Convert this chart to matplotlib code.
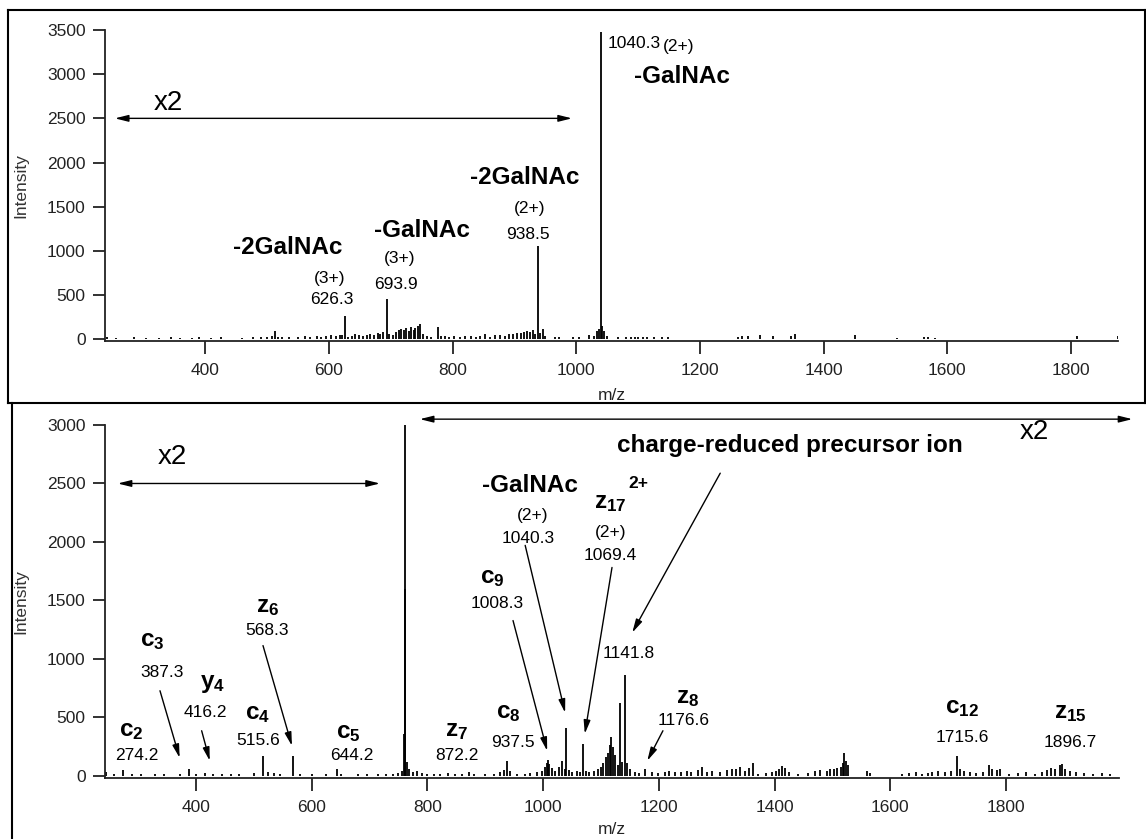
import matplotlib
matplotlib.use('Agg')
import matplotlib.pyplot as plt
from matplotlib.lines import Line2D

plt.rcParams['font.family'] = ['Liberation Sans', 'DejaVu Sans']
plt.rcParams['mathtext.fontset'] = 'custom'
plt.rcParams['mathtext.rm'] = 'Liberation Sans'
plt.rcParams['mathtext.bf'] = 'Liberation Sans:bold'
plt.rcParams['mathtext.it'] = 'Liberation Sans:italic'

# ---- top spectrum (m/z, intensity) ----
top_mz = [242, 255, 285, 305, 325, 345, 360, 378, 390, 410, 425, 460, 478, 490, 500,
          508, 513, 518, 525, 535, 550, 562, 570, 580, 588, 596, 604, 612, 618, 622,
          626.3, 631, 637, 643, 649, 655, 661, 667, 673, 679, 683, 688, 693.9, 698, 704,
          709, 713, 717, 721, 725, 729, 733, 737, 740, 744, 748, 752, 758, 765, 777,
          782, 788, 795, 803, 812, 820, 830, 838, 845, 852, 860, 868, 876, 884, 892,
          898, 904, 910, 915, 920, 926, 930, 934, 938.5, 942, 946, 950, 965, 972, 995,
          1005, 1020, 1028, 1033, 1036, 1040.3, 1042, 1045, 1050, 1068, 1080, 1088, 1095, 1100, 1108,
          1115, 1126, 1138, 1148, 1262, 1268, 1278, 1297, 1318, 1348, 1354, 1451, 1519, 1563, 1568,
          1580, 1810, 1876]
top_int = [20, 15, 20, 18, 15, 20, 15, 15, 20, 15, 20, 15, 20, 25, 30,
           40, 90, 30, 25, 30, 20, 35, 30, 40, 30, 35, 45, 40, 50, 45,
           260, 30, 40, 55, 45, 35, 50, 60, 45, 70, 55, 80, 455, 60, 50,
           80, 100, 120, 110, 130, 90, 140, 110, 125, 150, 170, 60, 40, 30, 135,
           40, 35, 30, 35, 30, 40, 35, 30, 40, 55, 30, 45, 50, 40, 60,
           55, 70, 65, 80, 95, 80, 100, 60, 1060, 70, 120, 40, 25, 30, 25,
           25, 50, 40, 90, 120, 3480, 150, 90, 40, 20, 25, 20, 30, 25, 30,
           25, 20, 25, 25, 30, 35, 40, 45, 40, 35, 55, 45, 15, 25, 20,
           12, 40, 35]

# ---- bottom spectrum (m/z, intensity) ----
bot_mz = [245, 258, 274.2, 290, 305, 330, 345, 372, 387.3, 400, 416.2, 430, 445, 460, 475,
          500, 515.6, 525, 535, 545, 568.3, 580, 600, 625, 644.2, 650, 680, 695, 715, 728,
          740, 750, 756, 760, 761, 762, 764, 768, 775, 782, 790, 800, 812, 822, 835,
          848, 860, 872.2, 880, 900, 915, 925, 932, 937.5, 942, 955, 968, 978, 990, 998,
          1003, 1006, 1008.3, 1011, 1015, 1020, 1027, 1033, 1037, 1040.3, 1044, 1050, 1058, 1063, 1069.4,
          1074, 1080, 1088, 1095, 1100, 1104, 1108, 1112, 1116, 1118, 1121, 1125, 1129, 1133, 1137,
          1141.8, 1145, 1150, 1158, 1165, 1176.6, 1188, 1198, 1210, 1218, 1228, 1238, 1248, 1256, 1268,
          1275, 1284, 1292, 1305, 1318, 1326, 1334, 1340, 1348, 1356, 1362, 1372, 1385, 1395, 1402,
          1408, 1413, 1418, 1425, 1440, 1458, 1470, 1478, 1490, 1496, 1502, 1508, 1514, 1518, 1520,
          1523, 1526, 1560, 1565, 1620, 1632, 1645, 1655, 1665, 1672, 1682, 1695, 1705, 1715.6, 1720,
          1728, 1738, 1748, 1760, 1770, 1775, 1785, 1790, 1805, 1820, 1835, 1850, 1862, 1870, 1878,
          1885, 1893, 1897, 1902, 1910, 1920, 1935, 1950, 1965, 1980]
bot_int = [30, 20, 50, 20, 15, 15, 15, 15, 60, 15, 25, 20, 15, 20, 12,
           25, 170, 35, 25, 20, 170, 20, 15, 15, 55, 20, 15, 15, 15, 20,
           20, 25, 40, 360, 1600, 3020, 120, 60, 30, 40, 25, 20, 20, 15, 25,
           20, 15, 35, 20, 15, 20, 30, 50, 125, 40, 15, 20, 25, 30, 40,
           80, 110, 140, 100, 70, 40, 75, 130, 60, 410, 50, 30, 40, 30, 270,
           40, 30, 45, 60, 75, 110, 160, 200, 260, 330, 250, 180, 90, 620, 120,
           860, 110, 60, 30, 25, 55, 30, 25, 30, 40, 30, 35, 45, 35, 50,
           80, 30, 40, 30, 50, 60, 55, 80, 45, 70, 110, 20, 25, 30, 40,
           60, 85, 70, 35, 20, 25, 45, 50, 40, 55, 60, 70, 80, 110, 200,
           130, 90, 40, 25, 20, 25, 30, 20, 25, 35, 40, 30, 40, 170, 60,
           40, 30, 25, 30, 90, 60, 50, 60, 20, 25, 30, 20, 35, 50, 70,
           60, 90, 100, 60, 40, 30, 25, 20, 25, 15]

x_ticks = [400, 600, 800, 1000, 1200, 1400, 1600, 1800]
top_yticks = [0, 500, 1000, 1500, 2000, 2500, 3000, 3500]
bot_yticks = [0, 500, 1000, 1500, 2000, 2500, 3000]

# labels: (text, m/z, intensity, size, bold)
top_labels = [
    ('x2', 340, 2670, 20, False),
    ('-GalNAc', 1171, 2977, 17.5, True),
    ('-2GalNAc', 534, 1034, 17.5, True),
    ('(3+)', 602, 693, 12.5, False),
    ('626.3', 605, 455, 12.5, False),
    ('-GalNAc', 751, 1227, 17.5, True),
    ('(3+)', 714, 909, 12.5, False),
    ('693.9', 709, 625, 12.5, False),
    ('-2GalNAc', 916, 1830, 17.5, True),
    ('(2+)', 924, 1477, 12.5, False),
    ('938.5', 922, 1182, 12.5, False),
]

bot_labels = [
    ('x2', 359, 2725, 20, False),
    (r'$\mathbf{c}_{\mathbf{2}}$', 289, 386, 17.5, False),
    ('274.2', 298, 171, 12.5, False),
    (r'$\mathbf{c}_{\mathbf{3}}$', 324, 1157, 17.5, False),
    ('387.3', 341, 883, 12.5, False),
    (r'$\mathbf{y}_{\mathbf{4}}$', 428, 788, 17.5, False),
    ('416.2', 416, 540, 12.5, False),
    (r'$\mathbf{c}_{\mathbf{4}}$', 507, 531, 17.5, False),
    ('515.6', 507, 300, 12.5, False),
    (r'$\mathbf{z}_{\mathbf{6}}$', 524, 1440, 17.5, False),
    ('568.3', 523, 1243, 12.5, False),
    (r'$\mathbf{c}_{\mathbf{5}}$', 663, 368, 17.5, False),
    ('644.2', 670, 171, 12.5, False),
    (r'$\mathbf{z}_{\mathbf{7}}$', 851, 386, 17.5, False),
    ('872.2', 851, 171, 12.5, False),
    (r'$\mathbf{c}_{\mathbf{8}}$', 939, 540, 17.5, False),
    ('937.5', 948, 283, 12.5, False),
    (r'$\mathbf{c}_{\mathbf{9}}$', 913, 1688, 17.5, False),
    ('1008.3', 920, 1474, 12.5, False),
    ('-GalNAc', 977, 2485, 17.5, True),
    ('(2+)', 981, 2228, 12.5, False),
    ('1040.3', 974, 2031, 12.5, False),
    (r'$\mathbf{z}_{\mathbf{17}}$', 1116, 2331, 17.5, False),
    ('2+', 1164, 2500, 12.5, True),
    ('(2+)', 1116, 2082, 12.5, False),
    ('1069.4', 1116, 1885, 12.5, False),
    ('1141.8', 1147, 1045, 12.5, False),
    ('charge-reduced precursor ion', 1427, 2828, 17.5, True),
    (r'$\mathbf{z}_{\mathbf{8}}$', 1249, 668, 17.5, False),
    ('1176.6', 1242, 471, 12.5, False),
    ('x2', 1849, 2939, 20, False),
    (r'$\mathbf{c}_{\mathbf{12}}$', 1724, 583, 17.5, False),
    ('1715.6', 1724, 326, 12.5, False),
    (r'$\mathbf{z}_{\mathbf{15}}$', 1911, 540, 17.5, False),
    ('1896.7', 1911, 283, 12.5, False),
]

# arrows: (tail m/z, tail int, head m/z, head int)
bot_arrows = [
    (338, 728, 372, 154),
    (410, 386, 424, 129),
    (516, 1114, 566, 257),
    (948, 1328, 1007, 214),
    (969, 1971, 1038, 540),
    (1119, 1782, 1072, 360),
    (1306, 2588, 1154, 1225),
    (1207, 386, 1180, 129),
]

W, H = 1146, 839
fig = plt.figure(figsize=(W / 100, H / 100), dpi=100)
ax1 = fig.add_axes([105 / W, 1 - 341 / H, (1118 - 105) / W, (341 - 30) / H])
ax2 = fig.add_axes([105 / W, 1 - 778 / H, (1119 - 105) / W, (778 - 425) / H])


def style(ax, xlim, ylim, yticks):
    for s in ['top', 'right']:
        ax.spines[s].set_visible(False)
    for s in ['left', 'bottom']:
        ax.spines[s].set_linewidth(1.3)
        ax.spines[s].set_color('#222222')
    ax.set_xlim(xlim)
    ax.set_ylim(ylim)
    ax.set_xticks(x_ticks)
    ax.set_yticks(yticks)
    ax.tick_params(direction='out', length=9, width=1.3, labelsize=12.5,
                   colors='#222222', pad=5)
    ax.tick_params(axis='x', pad=7)
    ax.set_xlabel('m/z', fontsize=12.5, color='#222222')
    ax.set_ylabel('Intensity', fontsize=12.5, color='#333333')
    ax.yaxis.set_label_coords(-0.076, 0.5)


style(ax1, (238, 1876), (-20, 3500), top_yticks)
style(ax2, (243, 1995), (-18, 3000), bot_yticks)
ax1.xaxis.set_label_coords(0.5, -0.15)
ax2.xaxis.set_label_coords(0.5, -0.125)
ax1.xaxis.label.set_va('top')
ax2.xaxis.label.set_va('top')

ax1.vlines(top_mz, 0, top_int, color='black', lw=1.3)
ax2.vlines(bot_mz, 0, bot_int, color='black', lw=1.3)

for ax, labels in [(ax1, top_labels), (ax2, bot_labels)]:
    for txt, x, y, size, bold in labels:
        ax.text(x, y, txt, fontsize=size, fontweight='bold' if bold else 'normal',
                ha='center', va='center', color='black', clip_on=False)

# precursor label on top panel
ax1.text(1051, 3352, '1040.3', fontsize=12.5, ha='left', va='center')
ax1.text(1140, 3318, '(2+)', fontsize=12.5, ha='left', va='center')

head = '-|>,head_length=0.8,head_width=0.2'
dhead = '<|-|>,head_length=0.8,head_width=0.2'
ax1.annotate('', xy=(993, 2500), xytext=(254, 2500),
             arrowprops=dict(arrowstyle=dhead, color='black', lw=1, shrinkA=0, shrinkB=0))
ax2.annotate('', xy=(718, 2500), xytext=(265, 2500),
             arrowprops=dict(arrowstyle=dhead, color='black', lw=1, shrinkA=0, shrinkB=0))
ax2.annotate('', xy=(2018, 3050), xytext=(787, 3050), annotation_clip=False,
             arrowprops=dict(arrowstyle=dhead, color='black', lw=1, shrinkA=0, shrinkB=0))
for x0, y0, x1, y1 in bot_arrows:
    ax2.annotate('', xy=(x1, y1), xytext=(x0, y0),
                 arrowprops=dict(arrowstyle=head, color='black', lw=1, shrinkA=0, shrinkB=0))

# panel frames
frame = dict(transform=fig.transFigure, color='black', lw=1.5)
fig.add_artist(Line2D([8 / W, 1], [1 - 10 / H, 1 - 10 / H], **frame))
fig.add_artist(Line2D([8 / W, 8 / W], [1 - 10 / H, 1 - 403 / H], **frame))
fig.add_artist(Line2D([1 - 1 / W, 1 - 1 / W], [1 - 10 / H, 1 - 403 / H], **frame))
fig.add_artist(Line2D([8 / W, 1], [1 - 403 / H, 1 - 403 / H], **frame))
fig.add_artist(Line2D([12 / W, 12 / W], [1 - 403 / H, 0], **frame))

fig.savefig('out.png', dpi=100, facecolor='white')
